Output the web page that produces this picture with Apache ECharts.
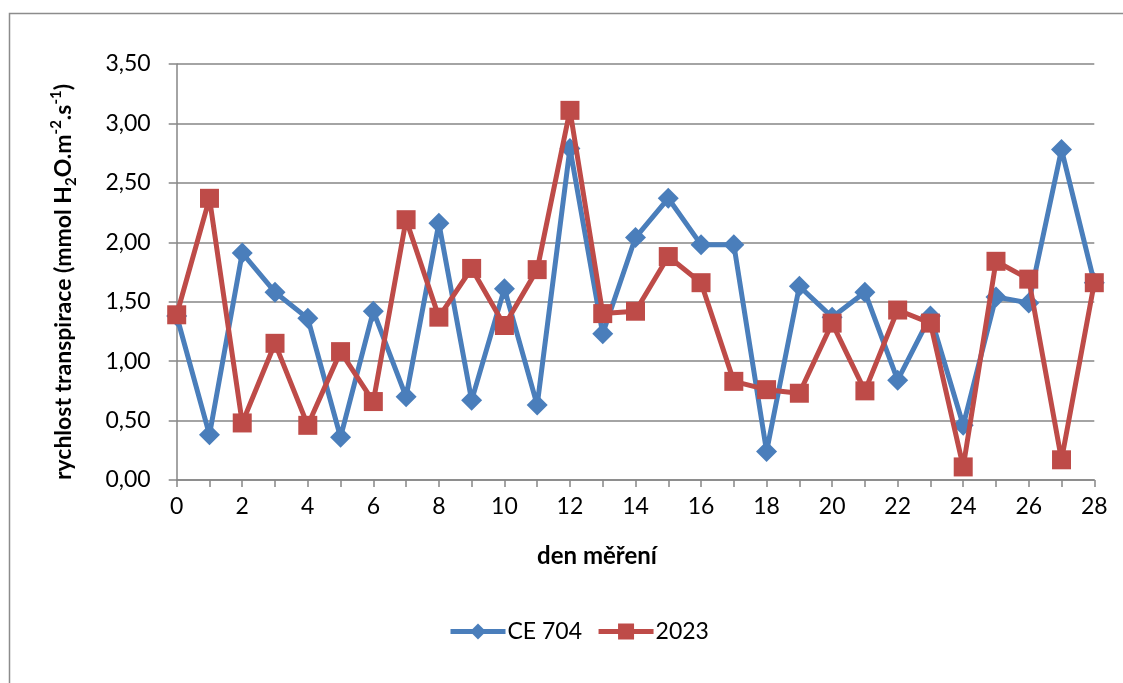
<!DOCTYPE html>
<html>
<head>
<meta charset="utf-8">
<script src="https://cdn.jsdelivr.net/npm/echarts@6/dist/echarts.min.js"></script>
<style>html,body{margin:0;padding:0;background:#fff}#c{width:1123px;height:683px}</style>
</head>
<body>
<div id="c"></div>
<script>
const days = [0,1,2,3,4,5,6,7,8,9,10,11,12,13,14,15,16,17,18,19,20,21,22,23,24,25,26,27,28];
const ce704 = [1.38,0.38,1.91,1.58,1.36,0.36,1.42,0.70,2.16,0.67,1.61,0.63,2.79,1.23,2.04,2.37,1.98,1.98,0.24,1.63,1.37,1.58,0.84,1.38,0.46,1.54,1.49,2.78,1.66];
const y2023 = [1.39,2.37,0.48,1.15,0.46,1.08,0.66,2.19,1.37,1.78,1.30,1.77,3.11,1.40,1.42,1.88,1.66,0.83,0.76,0.73,1.32,0.75,1.43,1.32,0.11,1.84,1.69,0.17,1.66];
const seriesNames = ['CE 704', '2023'];
const xTitle = 'den měření';

const font = 'Lato, Carlito, Calibri, sans-serif';
const chart = echarts.init(document.getElementById('c'));
const grid = {left: 176.7, right: 28.7, top: 64, bottom: 203};
chart.setOption({
  animation: false,
  backgroundColor: '#fff',
  textStyle: {fontFamily: font},
  grid: grid,
  xAxis: {
    type: 'value', min: 0, max: 28, interval: 1,
    axisLine: {show: true, onZero: false, lineStyle: {color: '#868686', width: 1.5}},
    axisTick: {show: true, length: 7, lineStyle: {color: '#868686', width: 1.5}},
    axisLabel: {color: '#000', fontSize: 23, fontFamily: font, margin: 15,
      formatter: v => (v % 2 === 0 ? String(v) : '')},
    splitLine: {show: false}
  },
  yAxis: {
    type: 'value', min: 0, max: 3.5, interval: 0.5,
    axisLine: {show: true, lineStyle: {color: '#868686', width: 1.5}},
    axisTick: {show: true, length: 8, lineStyle: {color: '#868686', width: 1.5}},
    axisLabel: {color: '#000', fontSize: 23, fontFamily: font, margin: 26,
      formatter: v => v.toFixed(2).replace('.', ',')},
    splitLine: {show: true, lineStyle: {color: '#868686', width: 1.5}}
  },
  legend: {
    left: 448, top: 620, padding: 0, itemWidth: 55, itemHeight: 20, itemGap: 14,
    lineStyle: {width: 5},
    textStyle: {fontSize: 23, color: '#000', fontFamily: font, padding: [0,0,0,-3]},
    data: seriesNames
  },
  graphic: [
    {type: 'rect', shape: {x: 9.5, y: 13.5, width: 1300, height: 900}, style: {fill: 'none', stroke: '#8c8c8c', lineWidth: 1.5}, silent: true, z: -1},
    {type: 'text', x: 597, y: 556, style: {text: xTitle, font: 'bold 24px ' + font, fill: '#000', align: 'center', verticalAlign: 'middle'}},
    {type: 'text', x: 64, y: 282, rotation: Math.PI / 2,
      style: {
        text: '{b|rychlost transpirace (mmol H}{sub|2}{b|O.m}{sup|-2}{b|.s}{sup|-1}{b|)}',
        align: 'center', verticalAlign: 'middle', fill: '#000',
        rich: {
          b: {font: 'bold 23px ' + font, fill: '#000', lineHeight: 30, verticalAlign: 'middle'},
          sub: {font: 'bold 15px ' + font, fill: '#000', lineHeight: 30, verticalAlign: 'bottom'},
          sup: {font: 'bold 15px ' + font, fill: '#000', lineHeight: 30, verticalAlign: 'top'}
        }
      }
    }
  ],
  series: [
    {name: seriesNames[0], type: 'line', data: days.map((d, i) => [d, ce704[i]]),
      symbol: 'diamond', symbolSize: 21, lineStyle: {width: 5, color: '#4A7EBB'},
      itemStyle: {color: '#4A7EBB'}, z: 2},
    {name: seriesNames[1], type: 'line', data: days.map((d, i) => [d, y2023[i]]),
      symbol: 'rect', symbolSize: 19, lineStyle: {width: 5, color: '#BE4B48'},
      itemStyle: {color: '#BE4B48'}, z: 3}
  ]
});
</script>
</body>
</html>
